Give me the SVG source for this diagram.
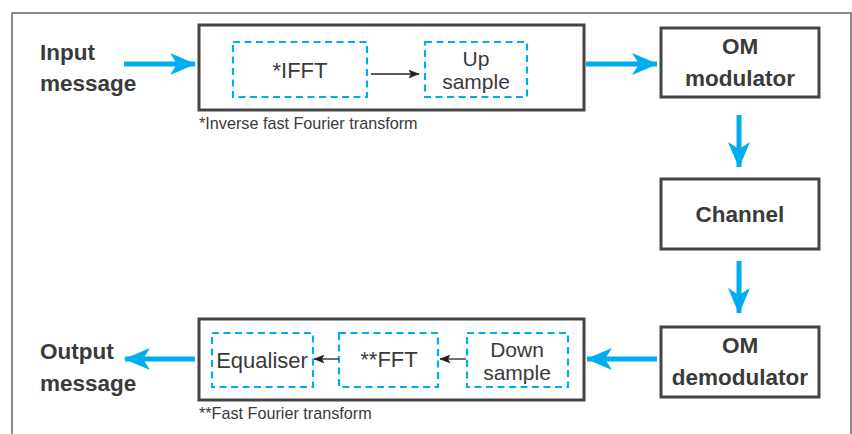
<svg xmlns="http://www.w3.org/2000/svg" width="852" height="434" viewBox="0 0 852 434">
<defs>
<style>
.frame{fill:none;stroke:#666;stroke-width:1.5}
.blk{fill:#fff;stroke:#444;stroke-width:3}
.dash{fill:none;stroke:#00AEEF;stroke-width:2.2;stroke-dasharray:7,4.5}
.cy{fill:none;stroke:#00AEEF;stroke-width:5;marker-end:url(#ca)}
.bk{fill:none;stroke:#222;stroke-width:1.3;marker-end:url(#ba)}
.b{font-family:"Liberation Sans",Arial,sans-serif;font-weight:bold;font-size:22.5px;fill:#3a3a3a}
.r{font-family:"Liberation Sans",Arial,sans-serif;font-size:22px;fill:#3a3a3a}
.r2{font-family:"Liberation Sans",Arial,sans-serif;font-size:21px;fill:#3a3a3a}
.s{font-family:"Liberation Sans",Arial,sans-serif;font-size:16.2px;fill:#3a3a3a}
.c{text-anchor:middle}
</style>
<marker id="ca" viewBox="0 0 26 22" refX="25" refY="11" markerWidth="26" markerHeight="22" markerUnits="userSpaceOnUse" orient="auto">
<path d="M0,0 L26,11 L0,22 L7,11 Z" fill="#00AEEF"/>
</marker>
<marker id="ba" viewBox="0 0 11 9" refX="10.5" refY="4.5" markerWidth="11" markerHeight="9" markerUnits="userSpaceOnUse" orient="auto">
<path d="M0,0 L11,4.5 L0,9 L2.5,4.5 Z" fill="#222"/>
</marker>
</defs>
<rect class="frame" x="12" y="13" width="839" height="430"/>

<g id="input">
<text class="b" x="40" y="60">Input</text>
<text class="b" x="40" y="91">message</text>
</g>
<g id="tx-block">
<rect class="blk" x="199" y="25" width="385" height="85"/>
<text class="s" x="199" y="129">*Inverse fast Fourier transform</text>
</g>
<g id="ifft">
<rect class="dash" x="233" y="42" width="134" height="55"/>
<text class="r c" x="300" y="78">*IFFT</text>
</g>
<g id="upsample">
<rect class="dash" x="425" y="42" width="102" height="55"/>
<text class="r2 c" x="476" y="66">Up</text>
<text class="r2 c" x="476" y="89">sample</text>
</g>
<g id="om-mod">
<rect class="blk" x="661" y="28" width="158" height="69" stroke-width="2.5"/>
<text class="b c" x="740" y="54">OM</text>
<text class="b c" x="740" y="86">modulator</text>
</g>
<g id="channel">
<rect class="blk" x="661" y="179" width="158" height="70" stroke-width="2.5"/>
<text class="b c" x="740" y="222">Channel</text>
</g>
<g id="om-demod">
<rect class="blk" x="661" y="327" width="158" height="70" stroke-width="2.5"/>
<text class="b c" x="740" y="353">OM</text>
<text class="b c" x="740" y="385">demodulator</text>
</g>
<g id="rx-block">
<rect class="blk" x="199" y="319" width="385" height="81"/>
<text class="s" x="199" y="419">**Fast Fourier transform</text>
</g>
<g id="equaliser">
<rect class="dash" x="212" y="333" width="101" height="54"/>
<text class="r c" x="262" y="368">Equaliser</text>
</g>
<g id="fft">
<rect class="dash" x="339" y="333" width="99" height="54"/>
<text class="r c" x="389" y="367">**FFT</text>
</g>
<g id="downsample">
<rect class="dash" x="467" y="333" width="101" height="54"/>
<text class="r2 c" x="517" y="357">Down</text>
<text class="r2 c" x="517" y="380">sample</text>
</g>
<g id="output">
<text class="b" x="40" y="359">Output</text>
<text class="b" x="40" y="391">message</text>
</g>

<g id="connectors">
<line class="cy" x1="124" y1="64" x2="195" y2="64"/>
<line class="bk" x1="371" y1="74" x2="419" y2="74"/>
<line class="cy" x1="586" y1="64" x2="657" y2="64"/>
<line class="cy" x1="739" y1="115" x2="739" y2="167"/>
<line class="cy" x1="739" y1="261" x2="739" y2="313"/>
<line class="cy" x1="657" y1="359" x2="587" y2="359"/>
<line class="bk" x1="466" y1="359" x2="440" y2="359"/>
<line class="bk" x1="339" y1="359" x2="314" y2="359"/>
<line class="cy" x1="195" y1="359" x2="125" y2="359"/>
</g>
</svg>
